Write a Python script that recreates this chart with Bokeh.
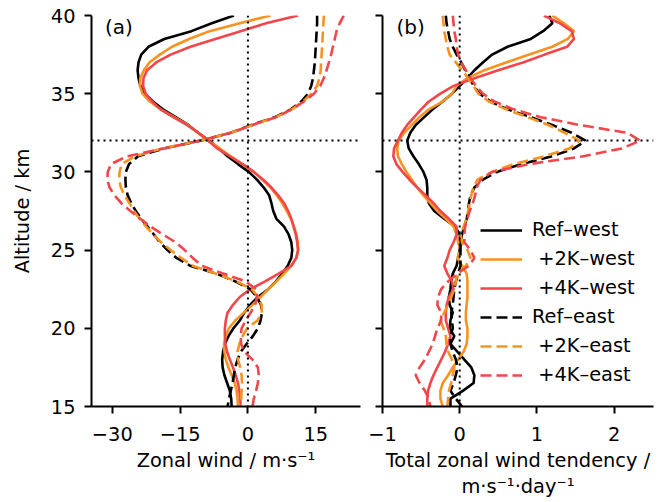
from bokeh.plotting import figure
from bokeh.layouts import row
from bokeh.models import Range1d, FixedTicker, Span, Label, Legend, LegendItem
from bokeh.embed import file_html
from bokeh.resources import INLINE

# ---------------- data ----------------
altitude = [40.0, 39.5, 39.0, 38.5, 38.0, 37.5, 37.0, 36.5, 36.0, 35.5,
            35.0, 34.5, 34.0, 33.5, 33.0, 32.5, 32.0, 31.5, 31.0, 30.5,
            30.0, 29.5, 29.0, 28.5, 28.0, 27.5, 27.0, 26.5, 26.0, 25.5,
            25.0, 24.5, 24.0, 23.5, 23.0, 22.5, 22.0, 21.5, 21.0, 20.5,
            20.0, 19.5, 19.0, 18.5, 18.0, 17.5, 17.0, 16.5, 16.0, 15.5, 15.0]

# panel (a): zonal wind (m/s)
u_ref_west = [-3.1, -8.0, -12.5, -18.5, -22.0, -23.6, -24.2, -24.4, -24.2, -23.8,
              -22.8, -21.0, -18.8, -16.0, -13.2, -11.0, -8.6, -6.4, -4.5, -2.2,
              0.2, 2.0, 3.5, 4.7, 5.2, 5.6, 6.3, 8.0, 9.0, 9.6,
              9.8, 9.6, 8.8, 7.6, 6.2, 4.5, 2.2, 0.5, -0.8, -1.8,
              -3.2, -4.3, -5.1, -5.5, -5.7, -5.6, -5.2, -4.6, -4.0, -3.7, -3.6]
u_2k_west = [5.0, -1.8, -8.5, -13.0, -16.8, -19.5, -21.8, -23.0, -23.8, -23.9,
             -23.3, -21.7, -19.3, -16.3, -13.3, -11.0, -8.8, -6.2, -3.8, -1.2,
             1.3, 3.2, 5.0, 6.4, 7.6, 8.6, 9.5, 10.2, 10.7, 11.0,
             11.1, 10.7, 9.6, 8.0, 6.3, 4.5, 2.8, 1.0, -0.9, -2.8,
             -4.2, -4.9, -5.3, -5.2, -4.9, -4.3, -3.6, -2.9, -2.5, -2.3, -2.2]
u_4k_west = [11.1, 4.0, -1.6, -7.2, -12.7, -17.1, -20.3, -22.3, -23.1, -23.2,
             -22.6, -21.2, -19.3, -16.5, -13.5, -11.0, -8.8, -6.8, -4.0, -1.2,
             1.3, 3.4, 5.2, 6.7, 8.0, 8.9, 9.6, 10.1, 10.6, 10.9,
             11.1, 10.7, 9.6, 6.8, 3.8, 0.5, -1.8, -3.3, -4.5, -4.9,
             -5.1, -5.1, -5.0, -4.6, -4.0, -3.3, -2.7, -2.2, -1.9, -1.7, -1.6]
u_ref_east = [15.3, 15.3, 15.2, 15.1, 15.0, 14.9, 14.8, 14.6, 14.4, 14.0,
              13.3, 11.8, 9.5, 6.0, 0.8, -3.8, -10.5, -18.5, -24.3, -26.3,
              -27.0, -27.1, -27.0, -26.6, -25.8, -24.8, -23.6, -22.2, -20.8, -19.5,
              -17.8, -15.8, -12.8, -7.0, -2.8, 0.5, 2.0, 2.9, 3.1, 2.8,
              2.2, 1.1, -0.3, -1.6, -2.3, -2.8, -3.1, -3.4, -3.8, -4.2, -4.5]
u_2k_east = [16.8, 16.7, 16.6, 16.5, 16.4, 16.3, 16.2, 16.1, 15.8, 15.3,
             14.0, 12.2, 9.7, 6.2, 1.0, -3.8, -10.5, -19.0, -25.0, -27.9,
             -28.4, -28.5, -28.1, -27.3, -26.2, -25.2, -24.0, -22.5, -21.0, -19.2,
             -17.1, -14.8, -12.2, -7.2, -2.5, 0.8, 2.3, 3.0, 3.1, 2.1,
             -0.2, -1.2, -1.9, -2.3, -2.2, -1.7, -1.4, -1.3, -1.4, -1.5, -1.6]
u_4k_east = [21.2, 20.3, 19.6, 19.2, 18.8, 18.4, 17.9, 17.4, 16.8, 16.0,
             14.6, 12.4, 9.7, 6.2, 1.0, -3.8, -10.5, -18.5, -26.7, -30.3,
             -31.0, -31.1, -30.6, -29.5, -28.0, -26.0, -23.8, -21.5, -18.8, -16.0,
             -14.0, -12.2, -10.2, -5.5, -0.5, 1.8, 2.0, 1.6, 0.6, -0.5,
             -1.4, -1.6, -1.5, -0.8, 1.0, 2.2, 2.4, 2.2, 1.8, 1.3, 1.0]

# panel (b): total zonal wind tendency (m/s/day)
t_ref_west = [1.16, 1.20, 1.08, 0.92, 0.62, 0.42, 0.30, 0.19, 0.10, 0.00,
              -0.10, -0.22, -0.35, -0.46, -0.57, -0.64, -0.68, -0.66, -0.60, -0.53,
              -0.47, -0.43, -0.42, -0.42, -0.40, -0.33, -0.20, -0.06, 0.00, 0.01,
              0.00, -0.02, -0.04, -0.09, -0.11, -0.12, -0.14, -0.13, -0.09, -0.12,
              -0.13, -0.07, -0.12, -0.03, 0.06, 0.15, 0.19, 0.18, 0.04, -0.12, -0.12]
t_2k_west = [1.20, 1.35, 1.48, 1.40, 1.20, 0.90, 0.60, 0.32, 0.10, -0.04,
             -0.10, -0.22, -0.40, -0.52, -0.62, -0.72, -0.79, -0.81, -0.80, -0.75,
             -0.69, -0.62, -0.55, -0.47, -0.38, -0.29, -0.18, -0.08, -0.04, -0.02,
             0.01, -0.03, 0.03, 0.09, 0.10, 0.10, 0.10, 0.09, 0.08, 0.08,
             0.10, 0.10, 0.09, 0.05, -0.02, -0.09, -0.15, -0.22, -0.25, -0.25, -0.22]
t_4k_west = [1.09, 1.30, 1.45, 1.48, 1.39, 1.10, 0.82, 0.50, 0.20, -0.08,
             -0.25, -0.40, -0.50, -0.59, -0.68, -0.75, -0.80, -0.85, -0.86, -0.82,
             -0.74, -0.65, -0.55, -0.44, -0.34, -0.25, -0.14, -0.04, -0.04, -0.08,
             -0.13, -0.16, -0.20, -0.16, -0.10, -0.08, -0.14, -0.17, -0.18, -0.18,
             -0.15, -0.12, -0.15, -0.19, -0.24, -0.29, -0.34, -0.38, -0.41, -0.42, -0.42]
t_ref_east = [-0.18, -0.17, -0.15, -0.13, -0.09, -0.04, 0.02, 0.07, 0.13, 0.18,
              0.26, 0.40, 0.62, 0.92, 1.20, 1.45, 1.63, 1.48, 1.20, 0.80,
              0.48, 0.30, 0.19, 0.14, 0.12, 0.11, 0.09, 0.06, 0.03, 0.01,
              0.01, 0.01, 0.01, -0.02, -0.05, -0.07, -0.08, -0.09, -0.11, -0.10,
              -0.09, -0.12, -0.12, -0.09, -0.05, -0.03, -0.05, -0.08, -0.12, -0.05, 0.03]
t_2k_east = [-0.22, -0.21, -0.20, -0.18, -0.16, -0.13, -0.05, 0.03, 0.11, 0.18,
             0.24, 0.38, 0.60, 0.88, 1.15, 1.36, 1.55, 1.42, 1.10, 0.70,
             0.42, 0.23, 0.18, 0.15, 0.13, 0.11, 0.09, 0.05, 0.01, 0.03,
             0.10, 0.14, 0.08, -0.03, -0.05, -0.07, -0.11, -0.15, -0.20, -0.25,
             -0.21, -0.18, -0.17, -0.15, -0.10, -0.07, -0.09, -0.11, -0.14, -0.15, -0.16]
t_4k_east = [-0.09, -0.08, -0.07, -0.05, -0.04, -0.02, 0.02, 0.08, 0.14, 0.21,
             0.30, 0.45, 0.70, 1.05, 1.55, 2.17, 2.34, 2.10, 1.60, 0.90,
             0.42, 0.27, 0.22, 0.20, 0.17, 0.13, 0.10, 0.07, 0.06, 0.06,
             0.14, 0.19, 0.12, -0.03, -0.15, -0.24, -0.28, -0.29, -0.24, -0.24,
             -0.29, -0.32, -0.35, -0.40, -0.45, -0.52, -0.57, -0.52, -0.45, -0.40, -0.38]

labels = ["Ref\u2013west", "\u00a0+2K\u2013west", "\u00a0+4K\u2013west",
          "Ref\u2013east", "\u00a0+2K\u2013east", "\u00a0+4K\u2013east"]
colors = ["#000000", "#F7931E", "#F2464B", "#000000", "#F7931E", "#F2464B"]
dashes = ["solid", "solid", "solid", "11 5", "11 5", "11 5"]

y_ticks = [15, 20, 25, 30, 35, 40]
xa_ticks = [-30, -15, 0, 15]
xb_ticks = [-1, 0, 1, 2]
hline_alt = 32

FONT = "DejaVu Sans"
FS = "19.4px"
LW = 2.6
H = 502
TOP = 15
BOTTOM = 96


def style(p):
    p.outline_line_color = None
    p.grid.visible = False
    p.background_fill_color = None
    p.border_fill_color = None
    for ax in p.axis:
        ax.axis_line_width = 2
        ax.axis_line_color = "black"
        ax.major_tick_line_width = 2
        ax.major_tick_line_color = "black"
        ax.major_tick_out = 7
        ax.major_tick_in = 0
        ax.minor_tick_line_color = None
        ax.major_label_text_font = FONT
        ax.major_label_text_font_size = FS
        ax.major_label_text_color = "black"
        ax.axis_label_text_font = FONT
        ax.axis_label_text_font_size = FS
        ax.axis_label_text_font_style = "normal"
        ax.axis_label_text_color = "black"
    p.xaxis.major_label_standoff = 13
    p.xaxis.axis_label_standoff = 5
    p.yaxis.major_label_standoff = 9


def minus(v):
    return str(v).replace("-", "\u2212")


# ---------------- panel (a) ----------------
pa = figure(width=365, height=H, output_backend="svg", toolbar_location=None,
            x_range=Range1d(-34.6, 24.9), y_range=Range1d(15, 40),
            min_border_left=91, min_border_right=5, min_border_top=TOP, min_border_bottom=BOTTOM)
style(pa)
pa.xaxis.ticker = FixedTicker(ticks=xa_ticks)
pa.xaxis.major_label_overrides = {t: minus(t) for t in xa_ticks}
pa.yaxis.ticker = FixedTicker(ticks=y_ticks)
pa.xaxis.axis_label = "Zonal wind / m\u00b7s\u207b\u00b9"
pa.yaxis.axis_label = "Altitude / km"
pa.yaxis.axis_label_standoff = 14

series_a = [u_ref_west, u_2k_west, u_4k_west, u_ref_east, u_2k_east, u_4k_east]
for vals, c, d in zip(series_a, colors, dashes):
    pa.line(vals, altitude, line_color=c, line_width=LW, line_dash=d)

pa.add_layout(Span(location=0, dimension="height", line_color="black",
                   line_width=2, line_dash="2 4"))
pa.add_layout(Span(location=hline_alt, dimension="width", line_color="black",
                   line_width=2, line_dash="2 4"))
pa.add_layout(Label(x=-31.6, y=39.25, text="(a)", text_font=FONT, text_font_size="20px",
                    text_baseline="middle", text_align="left", text_color="black"))

# ---------------- panel (b) ----------------
pb = figure(width=289, height=H, output_backend="svg", toolbar_location=None,
            x_range=Range1d(-1.0, 2.51), y_range=Range1d(15, 40),
            min_border_left=17, min_border_right=1, min_border_top=TOP, min_border_bottom=BOTTOM)
style(pb)
pb.xaxis.ticker = FixedTicker(ticks=xb_ticks)
pb.xaxis.major_label_overrides = {t: minus(t) for t in xb_ticks}
pb.yaxis.ticker = FixedTicker(ticks=y_ticks)
pb.yaxis.major_label_overrides = {t: "" for t in y_ticks}
pb.yaxis.major_label_text_font_size = "0px"
pb.yaxis.major_label_standoff = 0
pb.xaxis.axis_label = "Total zonal wind tendency /\nm\u00b7s\u207b\u00b9\u00b7day\u207b\u00b9"
pb.xaxis.axis_label_text_line_height = 1.15

series_b = [t_ref_west, t_2k_west, t_4k_west, t_ref_east, t_2k_east, t_4k_east]
renderers = []
for vals, c, d in zip(series_b, colors, dashes):
    r = pb.line(vals, altitude, line_color=c, line_width=LW, line_dash=d)
    renderers.append(r)

pb.add_layout(Span(location=0, dimension="height", line_color="black",
                   line_width=2, line_dash="2 4"))
pb.add_layout(Span(location=hline_alt, dimension="width", line_color="black",
                   line_width=2, line_dash="2 4"))
pb.add_layout(Label(x=-0.82, y=39.25, text="(b)", text_font=FONT, text_font_size="20px",
                    text_baseline="middle", text_align="left", text_color="black"))

legend = Legend(items=[LegendItem(label=l, renderers=[r]) for l, r in zip(labels, renderers)],
                location=(98, 20), padding=0, margin=0, spacing=6,
                glyph_width=42, glyph_height=22, label_height=22, label_standoff=10,
                label_text_font=FONT, label_text_font_size=FS, label_text_color="black",
                border_line_color=None, background_fill_alpha=0)
pb.add_layout(legend, "center")

layout = row(pa, pb)
open("out.html", "w").write(file_html(layout, INLINE))
